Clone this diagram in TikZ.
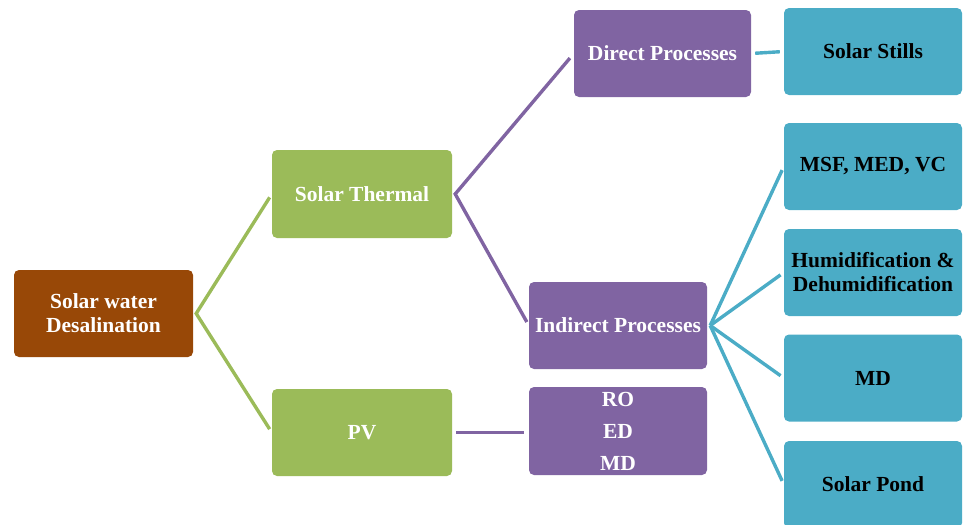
\documentclass[tikz,border=0pt]{standalone}
\usepackage{fontspec}
\setmainfont{Liberation Serif}

\definecolor{rootbrown}{HTML}{984807}
\definecolor{levgreen}{HTML}{9BBB59}
\definecolor{procpurple}{HTML}{8064A2}
\definecolor{techteal}{HTML}{4BACC6}

\tikzset{
    box/.style={rectangle, rounded corners=5pt, minimum width=178pt, minimum height=87pt,
        inner xsep=2pt, align=center, font=\fontsize{21.5}{24}\selectfont\bfseries},
    rootbox/.style={box, fill=rootbrown, text=white},
    greenbox/.style={box, fill=levgreen, text=white},
    purplebox/.style={box, fill=procpurple, text=white},
    tealbox/.style={box, fill=techteal, text=black},
    link/.style={line width=3.4pt, shorten <=4pt, shorten >=4pt}
}

\begin{document}
\begin{tikzpicture}[x=1pt, y=-1pt]

        \useasboundingbox (0,0) rectangle (970,525);

        % Root
        \node[rootbox, minimum width=179pt] (desal) at (103.5,313.5) {Solar water\\Desalination};

        % Energy sources
        \node[greenbox, minimum width=180pt, minimum height=88pt] (thermal) at (362,194) {Solar Thermal};
        \node[greenbox, minimum width=180pt] (pv) at (362,432.5) {PV};

        % Processes
        \node[purplebox, minimum width=177pt] (direct) at (662.5,53.5) {Direct Processes};
        \node[purplebox] (indirect) at (618,325.5) {Indirect Processes};
        \node[purplebox, minimum height=88pt, font=\fontsize{21.5}{32}\selectfont\bfseries] (membrane) at (618,431) {RO\\ED\\MD};

        % Technologies
        \node[tealbox] (stills) at (873,51.5) {Solar Stills};
        \node[tealbox] (msf) at (873,166.5) {MSF, MED, VC};
        \node[tealbox] (humid) at (873,272.5) {Humidification \&\\Dehumidification};
        \node[tealbox] (md) at (873,378) {MD};
        \node[tealbox] (pond) at (873,484.5) {Solar Pond};

        % Branch points
        \coordinate (desalhub) at ([xshift=3pt]desal.east);
        \coordinate (thermalhub) at ([xshift=3pt]thermal.east);
        \coordinate (indirecthub) at ([xshift=3pt]indirect.east);

        % Green links
        \draw[link, levgreen, shorten <=4pt, shorten >=4pt] (thermal.west) -- (desalhub) -- (pv.west);

        % Purple links
        \draw[link, procpurple, shorten <=6pt] (direct.west) -- (thermalhub) -- (indirect.west);
        \draw[link, procpurple, shorten >=5pt] (pv.east) -- (pv.east -| membrane.west);

        % Teal links
        \draw[link, techteal] (direct.east) -- (stills.west);
        \foreach \leaf in {msf, humid, md, pond}
            \draw[link, techteal, shorten <=0pt] (indirecthub) -- (\leaf.west);

    \end{tikzpicture}
\end{document}
